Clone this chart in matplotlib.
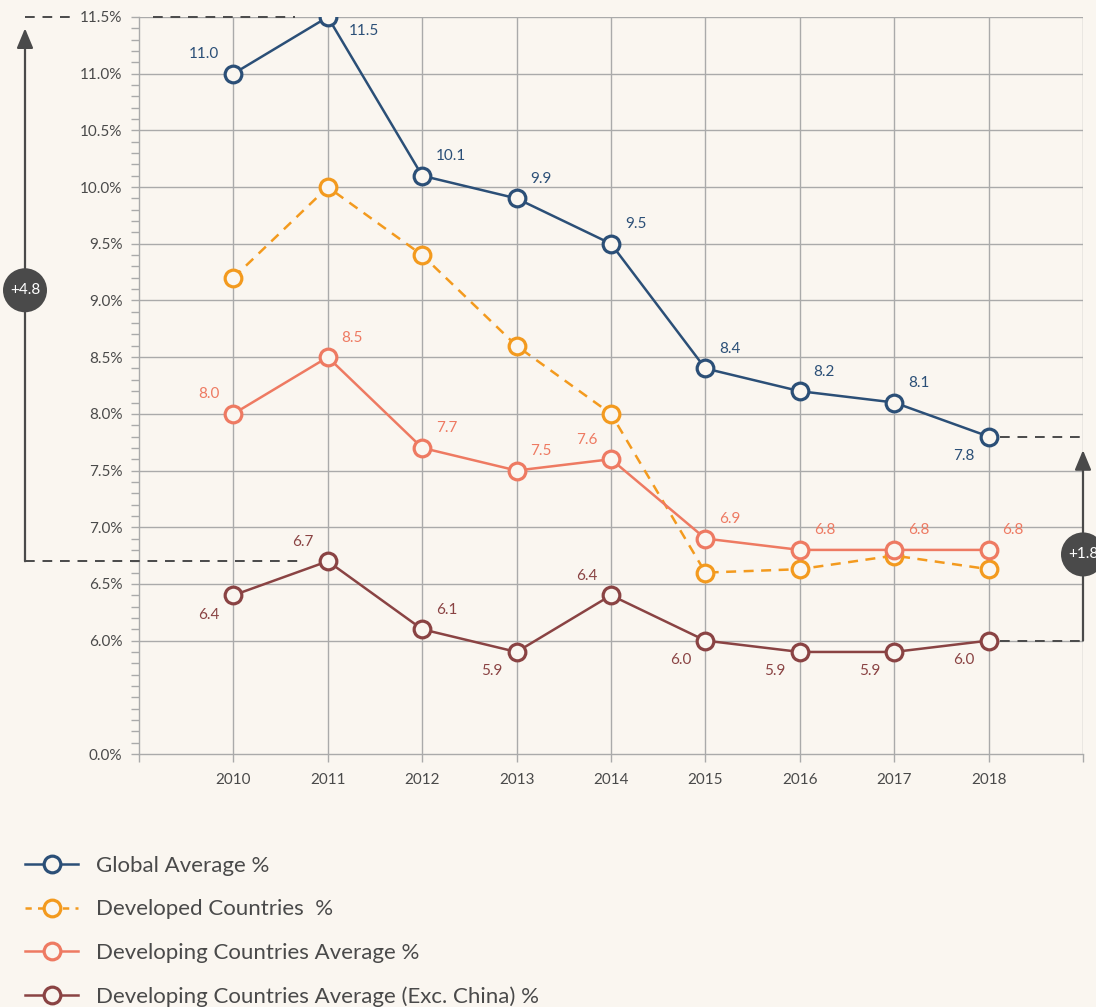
import matplotlib
matplotlib.use("Agg")
import matplotlib.pyplot as plt
from matplotlib.lines import Line2D

plt.rcParams["font.family"] = ["Lato", "DejaVu Sans"]

years = [2010, 2011, 2012, 2013, 2014, 2015, 2016, 2017, 2018]
global_avg = [11.0, 11.5, 10.1, 9.9, 9.5, 8.4, 8.2, 8.1, 7.8]
developed = [9.2, 10.0, 9.4, 8.6, 8.0, 6.6, 6.63, 6.75, 6.63]
developing = [8.0, 8.5, 7.7, 7.5, 7.6, 6.9, 6.8, 6.8, 6.8]
developing_exc = [6.4, 6.7, 6.1, 5.9, 6.4, 6.0, 5.9, 5.9, 6.0]

# label positions: ul / ur / ll / lr
global_pos = ["ul", "lr", "ur", "ur", "ur", "ur", "ur", "ur", "ll"]
developing_pos = ["ul", "ur", "ur", "ur", "ul", "ur", "ur", "ur", "ur"]
exc_pos = ["ll", "ul", "ur", "ll", "ul", "ll", "ll", "ll", "ll"]

ytick_vals = [5.0, 6.0, 6.5, 7.0, 7.5, 8.0, 8.5, 9.0, 9.5, 10.0, 10.5, 11.0, 11.5]
ytick_labels = ["0.0%"] + [f"{v:.1f}%" for v in ytick_vals[1:]]

BG = "#faf6f0"
GRID = "#aaaaaa"
TXT = "#4a4a4a"
DARK = "#4a4a4a"
C_GLOBAL = "#2b4f77"
C_DEV = "#f39a1e"
C_DEVING = "#ee7a62"
C_EXC = "#8a4343"

W, H = 1096, 1007
fig = plt.figure(figsize=(W / 100, H / 100), dpi=100, facecolor=BG)
ax = fig.add_axes([139 / W, (H - 754) / H, (1083 - 139) / W, (754 - 17) / H])
ax.set_facecolor(BG)

ax.set_xlim(2009, 2019)
ax.set_ylim(5.0, 11.5)

ax.set_xticks(list(range(2009, 2020)))
ax.set_xticklabels([""] + [str(y) for y in years] + [""])
ax.set_yticks(ytick_vals)
ax.set_yticklabels(ytick_labels)
ax.set_yticks([5.0 + 0.1 * i for i in range(66)], minor=True)

ax.tick_params(axis="both", colors=GRID, labelcolor=TXT, labelsize=11, length=6, width=1)
ax.tick_params(axis="y", which="minor", colors=GRID, length=6, width=1)
ax.tick_params(axis="x", pad=8)
ax.tick_params(axis="y", pad=6)

for s in ["top", "right"]:
    ax.spines[s].set_visible(False)
for s in ["left", "bottom"]:
    ax.spines[s].set_color(GRID)
    ax.spines[s].set_linewidth(1)

for y in ytick_vals[1:]:
    ax.axhline(y, color=GRID, lw=1, zorder=1)
for x in range(2010, 2020):
    ax.axvline(x, color=GRID, lw=1, zorder=1)

mk = dict(marker="o", markersize=12, markerfacecolor=BG, markeredgewidth=2.3)
ax.plot(years, global_avg, color=C_GLOBAL, lw=1.8, markeredgecolor=C_GLOBAL, zorder=5, **mk)
ax.plot(years, developed, color=C_DEV, lw=1.8, ls=(0, (4, 3)), markeredgecolor=C_DEV, zorder=4, **mk)
ax.plot(years, developing, color=C_DEVING, lw=1.8, markeredgecolor=C_DEVING, zorder=4, **mk)
ax.plot(years, developing_exc, color=C_EXC, lw=1.8, markeredgecolor=C_EXC, zorder=4, **mk)

offs = {"ul": (-10, 9, "right", "bottom"), "ur": (10, 9, "left", "bottom"),
        "ll": (-10, -9, "right", "top"), "lr": (15, -5, "left", "top")}


def label_series(vals, pos, color):
    for x, v, p in zip(years, vals, pos):
        dx, dy, ha, va = offs[p]
        ax.annotate(f"{v:.1f}", (x, v), xytext=(dx, dy), textcoords="offset points",
                    ha=ha, va=va, color=color, fontsize=11, zorder=6)


label_series(global_avg, global_pos, C_GLOBAL)
label_series(developing, developing_pos, C_DEVING)
label_series(developing_exc, exc_pos, C_EXC)

# left annotation: range of global average
xl = 2009 - (139 - 25) / 94.4
dash = dict(color=DARK, lw=1.4, ls=(0, (5, 4)), clip_on=False, zorder=3)
arrow = dict(arrowstyle="-|>,head_length=1.2,head_width=0.5", color=DARK, lw=1.6,
             shrinkA=0, shrinkB=0)
badge = dict(boxstyle="circle,pad=0.45", fc=DARK, ec="none")
ax.plot([xl, 2009 - (139 - 73) / 94.4], [11.5, 11.5], **dash)
ax.plot([2009 + (153 - 139) / 94.4, 2011 - 0.35], [11.5, 11.5], **dash)
ax.plot([xl, 2011 - 0.3], [6.7, 6.7], **dash)
ax.annotate("", xy=(xl, 11.4), xytext=(xl, 6.7), annotation_clip=False, arrowprops=arrow)
ax.text(xl, 9.09, "+4.8", ha="center", va="center", color="white", fontsize=11, zorder=8,
        bbox=badge, clip_on=False)

# right annotation: range 2018
xr = 2019
ax.plot([2018.12, xr], [7.8, 7.8], **dash)
ax.plot([2018.12, xr], [6.0, 6.0], **dash)
ax.annotate("", xy=(xr, 7.68), xytext=(xr, 6.0), annotation_clip=False, arrowprops=arrow)
ax.text(xr, 6.76, "+1.8", ha="center", va="center", color="white", fontsize=11, zorder=8,
        bbox=badge, clip_on=False)

handles = [
    Line2D([], [], color=C_GLOBAL, lw=1.8, markeredgecolor=C_GLOBAL, **mk),
    Line2D([], [], color=C_DEV, lw=1.8, ls=(0, (2.5, 2.5)), markeredgecolor=C_DEV, **mk),
    Line2D([], [], color=C_DEVING, lw=1.8, markeredgecolor=C_DEVING, **mk),
    Line2D([], [], color=C_EXC, lw=1.8, markeredgecolor=C_EXC, **mk),
]
labels = ["Global Average %", "Developed Countries  %", "Developing Countries Average %",
          "Developing Countries Average (Exc. China) %"]
fig.legend(handles, labels, loc="upper left", bbox_to_anchor=(5 / W, 1 - 836 / H),
           frameon=False, fontsize=16, handlelength=2.4, handletextpad=0.8,
           labelspacing=1.05, labelcolor=TXT)

fig.savefig("out.png", dpi=100, facecolor=BG)
